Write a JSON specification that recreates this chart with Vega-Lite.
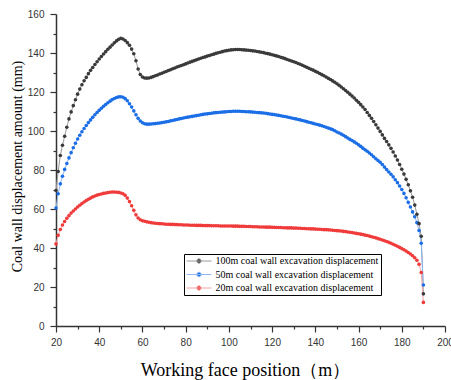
{
  "$schema": "https://vega.github.io/schema/vega-lite/v6.json",
  "width": 389,
  "height": 312,
  "autosize": {"type": "none"},
  "padding": {"left": 56, "top": 14, "right": 6, "bottom": 54},
  "background": "white",
  "config": {
    "view": {"stroke": null},
    "legend": {"strokeWidth": 1}
  },
  "data": {"values": [
    {"x":20,"m100":69.5,"m50":60.5,"m20":42.1},
    {"x":21,"m100":79.2,"m50":67.8,"m20":46.5},
    {"x":22,"m100":87.4,"m50":72.9,"m20":49.5},
    {"x":23,"m100":92.7,"m50":76.8,"m20":51.8},
    {"x":24,"m100":97.3,"m50":80.3,"m20":53.6},
    {"x":25,"m100":101.9,"m50":83.3,"m20":55.2},
    {"x":26,"m100":106.2,"m50":86.2,"m20":56.6},
    {"x":27,"m100":109.8,"m50":88.9,"m20":57.9},
    {"x":28,"m100":113.0,"m50":91.4,"m20":59.0},
    {"x":29,"m100":116.0,"m50":93.7,"m20":60.0},
    {"x":30,"m100":118.9,"m50":95.9,"m20":61.0},
    {"x":31,"m100":121.5,"m50":97.8,"m20":61.9},
    {"x":32,"m100":123.7,"m50":99.6,"m20":62.8},
    {"x":33,"m100":125.8,"m50":101.3,"m20":63.6},
    {"x":34,"m100":127.5,"m50":102.8,"m20":64.3},
    {"x":35,"m100":129.4,"m50":104.3,"m20":65.0},
    {"x":36,"m100":131.1,"m50":105.7,"m20":65.6},
    {"x":37,"m100":132.6,"m50":107.0,"m20":66.2},
    {"x":38,"m100":134.1,"m50":108.3,"m20":66.7},
    {"x":39,"m100":135.5,"m50":109.5,"m20":67.1},
    {"x":40,"m100":136.9,"m50":110.6,"m20":67.4},
    {"x":41,"m100":138.2,"m50":111.7,"m20":67.7},
    {"x":42,"m100":139.5,"m50":112.7,"m20":68.0},
    {"x":43,"m100":140.7,"m50":113.6,"m20":68.2},
    {"x":44,"m100":141.9,"m50":114.5,"m20":68.4},
    {"x":45,"m100":143.0,"m50":115.3,"m20":68.6},
    {"x":46,"m100":144.1,"m50":116.1,"m20":68.7},
    {"x":47,"m100":145.2,"m50":116.7,"m20":68.7},
    {"x":48,"m100":146.2,"m50":117.2,"m20":68.6},
    {"x":49,"m100":147.0,"m50":117.5,"m20":68.5},
    {"x":50,"m100":147.5,"m50":117.6,"m20":68.2},
    {"x":51,"m100":147.2,"m50":117.3,"m20":67.8},
    {"x":52,"m100":146.4,"m50":116.6,"m20":67.0},
    {"x":53,"m100":145.3,"m50":115.5,"m20":65.6},
    {"x":54,"m100":144.0,"m50":114.0,"m20":63.8},
    {"x":55,"m100":142.0,"m50":112.3,"m20":61.7},
    {"x":56,"m100":139.6,"m50":110.3,"m20":59.3},
    {"x":57,"m100":136.0,"m50":108.3,"m20":57.0},
    {"x":58,"m100":131.8,"m50":106.5,"m20":55.4},
    {"x":59,"m100":129.0,"m50":105.1,"m20":54.5},
    {"x":60,"m100":127.7,"m50":104.2,"m20":54.0},
    {"x":61,"m100":127.2,"m50":103.7,"m20":53.7},
    {"x":62,"m100":127.1,"m50":103.5,"m20":53.4},
    {"x":63,"m100":127.2,"m50":103.5,"m20":53.2},
    {"x":64,"m100":127.5,"m50":103.6,"m20":53.0},
    {"x":65,"m100":127.9,"m50":103.7,"m20":52.8},
    {"x":66,"m100":128.3,"m50":103.8,"m20":52.7},
    {"x":67,"m100":128.7,"m50":104.0,"m20":52.6},
    {"x":68,"m100":129.2,"m50":104.1,"m20":52.5},
    {"x":69,"m100":129.6,"m50":104.3,"m20":52.4},
    {"x":70,"m100":130.1,"m50":104.5,"m20":52.3},
    {"x":71,"m100":130.5,"m50":104.7,"m20":52.2},
    {"x":72,"m100":131.0,"m50":104.9,"m20":52.2},
    {"x":73,"m100":131.4,"m50":105.2,"m20":52.1},
    {"x":74,"m100":131.9,"m50":105.4,"m20":52.1},
    {"x":75,"m100":132.3,"m50":105.7,"m20":52.0},
    {"x":76,"m100":132.8,"m50":105.9,"m20":52.0},
    {"x":77,"m100":133.2,"m50":106.2,"m20":51.9},
    {"x":78,"m100":133.6,"m50":106.4,"m20":51.9},
    {"x":79,"m100":134.0,"m50":106.7,"m20":51.8},
    {"x":80,"m100":134.4,"m50":106.9,"m20":51.8},
    {"x":81,"m100":134.9,"m50":107.1,"m20":51.8},
    {"x":82,"m100":135.3,"m50":107.3,"m20":51.7},
    {"x":83,"m100":135.7,"m50":107.5,"m20":51.7},
    {"x":84,"m100":136.1,"m50":107.7,"m20":51.7},
    {"x":85,"m100":136.5,"m50":107.9,"m20":51.6},
    {"x":86,"m100":136.9,"m50":108.1,"m20":51.6},
    {"x":87,"m100":137.3,"m50":108.3,"m20":51.6},
    {"x":88,"m100":137.7,"m50":108.5,"m20":51.5},
    {"x":89,"m100":138.0,"m50":108.7,"m20":51.5},
    {"x":90,"m100":138.4,"m50":108.8,"m20":51.5},
    {"x":91,"m100":138.7,"m50":109.0,"m20":51.5},
    {"x":92,"m100":139.1,"m50":109.1,"m20":51.4},
    {"x":93,"m100":139.4,"m50":109.3,"m20":51.4},
    {"x":94,"m100":139.8,"m50":109.4,"m20":51.4},
    {"x":95,"m100":140.1,"m50":109.5,"m20":51.4},
    {"x":96,"m100":140.4,"m50":109.6,"m20":51.3},
    {"x":97,"m100":140.7,"m50":109.7,"m20":51.3},
    {"x":98,"m100":141.0,"m50":109.8,"m20":51.3},
    {"x":99,"m100":141.2,"m50":109.9,"m20":51.3},
    {"x":100,"m100":141.4,"m50":110.0,"m20":51.3},
    {"x":101,"m100":141.6,"m50":110.0,"m20":51.3},
    {"x":102,"m100":141.7,"m50":110.1,"m20":51.2},
    {"x":103,"m100":141.8,"m50":110.1,"m20":51.2},
    {"x":104,"m100":141.8,"m50":110.1,"m20":51.2},
    {"x":105,"m100":141.8,"m50":110.1,"m20":51.1},
    {"x":106,"m100":141.7,"m50":110.0,"m20":51.1},
    {"x":107,"m100":141.6,"m50":110.0,"m20":51.1},
    {"x":108,"m100":141.5,"m50":109.9,"m20":51.0},
    {"x":109,"m100":141.4,"m50":109.9,"m20":51.0},
    {"x":110,"m100":141.3,"m50":109.8,"m20":51.0},
    {"x":111,"m100":141.1,"m50":109.7,"m20":50.9},
    {"x":112,"m100":141.0,"m50":109.6,"m20":50.9},
    {"x":113,"m100":140.8,"m50":109.5,"m20":50.9},
    {"x":114,"m100":140.6,"m50":109.4,"m20":50.8},
    {"x":115,"m100":140.4,"m50":109.3,"m20":50.8},
    {"x":116,"m100":140.2,"m50":109.2,"m20":50.8},
    {"x":117,"m100":139.9,"m50":109.1,"m20":50.7},
    {"x":118,"m100":139.7,"m50":108.9,"m20":50.7},
    {"x":119,"m100":139.4,"m50":108.7,"m20":50.7},
    {"x":120,"m100":139.1,"m50":108.5,"m20":50.6},
    {"x":121,"m100":138.8,"m50":108.4,"m20":50.6},
    {"x":122,"m100":138.5,"m50":108.2,"m20":50.5},
    {"x":123,"m100":138.2,"m50":108.0,"m20":50.5},
    {"x":124,"m100":137.8,"m50":107.8,"m20":50.5},
    {"x":125,"m100":137.5,"m50":107.6,"m20":50.4},
    {"x":126,"m100":137.1,"m50":107.4,"m20":50.4},
    {"x":127,"m100":136.7,"m50":107.2,"m20":50.3},
    {"x":128,"m100":136.3,"m50":106.9,"m20":50.3},
    {"x":129,"m100":135.9,"m50":106.7,"m20":50.3},
    {"x":130,"m100":135.5,"m50":106.4,"m20":50.2},
    {"x":131,"m100":135.1,"m50":106.2,"m20":50.2},
    {"x":132,"m100":134.6,"m50":105.9,"m20":50.1},
    {"x":133,"m100":134.2,"m50":105.7,"m20":50.1},
    {"x":134,"m100":133.7,"m50":105.4,"m20":50.0},
    {"x":135,"m100":133.2,"m50":105.1,"m20":50.0},
    {"x":136,"m100":132.7,"m50":104.8,"m20":49.9},
    {"x":137,"m100":132.2,"m50":104.5,"m20":49.9},
    {"x":138,"m100":131.7,"m50":104.2,"m20":49.8},
    {"x":139,"m100":131.2,"m50":103.9,"m20":49.8},
    {"x":140,"m100":130.6,"m50":103.6,"m20":49.7},
    {"x":141,"m100":130.1,"m50":103.3,"m20":49.6},
    {"x":142,"m100":129.5,"m50":103.0,"m20":49.6},
    {"x":143,"m100":128.9,"m50":102.7,"m20":49.5},
    {"x":144,"m100":128.3,"m50":102.3,"m20":49.4},
    {"x":145,"m100":127.7,"m50":101.9,"m20":49.4},
    {"x":146,"m100":127.0,"m50":101.5,"m20":49.3},
    {"x":147,"m100":126.4,"m50":101.1,"m20":49.2},
    {"x":148,"m100":125.7,"m50":100.7,"m20":49.1},
    {"x":149,"m100":125.0,"m50":100.1,"m20":49.0},
    {"x":150,"m100":124.2,"m50":99.5,"m20":48.9},
    {"x":151,"m100":123.4,"m50":99.0,"m20":48.8},
    {"x":152,"m100":122.6,"m50":98.4,"m20":48.7},
    {"x":153,"m100":121.7,"m50":97.8,"m20":48.5},
    {"x":154,"m100":120.8,"m50":97.1,"m20":48.4},
    {"x":155,"m100":119.9,"m50":96.4,"m20":48.2},
    {"x":156,"m100":118.9,"m50":95.7,"m20":48.1},
    {"x":157,"m100":117.9,"m50":95.1,"m20":47.9},
    {"x":158,"m100":116.9,"m50":94.4,"m20":47.7},
    {"x":159,"m100":115.8,"m50":93.7,"m20":47.5},
    {"x":160,"m100":114.7,"m50":92.9,"m20":47.3},
    {"x":161,"m100":113.5,"m50":92.1,"m20":47.1},
    {"x":162,"m100":112.3,"m50":91.2,"m20":46.9},
    {"x":163,"m100":111.0,"m50":90.4,"m20":46.6},
    {"x":164,"m100":109.5,"m50":89.6,"m20":46.4},
    {"x":165,"m100":108.0,"m50":88.7,"m20":46.1},
    {"x":166,"m100":106.5,"m50":87.8,"m20":45.8},
    {"x":167,"m100":104.9,"m50":86.8,"m20":45.5},
    {"x":168,"m100":103.2,"m50":85.8,"m20":45.2},
    {"x":169,"m100":101.5,"m50":84.9,"m20":44.8},
    {"x":170,"m100":99.8,"m50":84.0,"m20":44.5},
    {"x":171,"m100":98.0,"m50":82.8,"m20":44.1},
    {"x":172,"m100":96.2,"m50":81.5,"m20":43.7},
    {"x":173,"m100":94.6,"m50":80.2,"m20":43.3},
    {"x":174,"m100":92.9,"m50":79.0,"m20":42.9},
    {"x":175,"m100":91.1,"m50":77.8,"m20":42.4},
    {"x":176,"m100":89.2,"m50":76.5,"m20":41.9},
    {"x":177,"m100":87.2,"m50":75.0,"m20":41.4},
    {"x":178,"m100":85.1,"m50":73.5,"m20":40.9},
    {"x":179,"m100":82.8,"m50":71.8,"m20":40.3},
    {"x":180,"m100":80.4,"m50":70.0,"m20":39.7},
    {"x":181,"m100":77.9,"m50":68.0,"m20":39.1},
    {"x":182,"m100":75.2,"m50":65.8,"m20":38.4},
    {"x":183,"m100":72.4,"m50":63.4,"m20":37.7},
    {"x":184,"m100":69.3,"m50":61.0,"m20":36.9},
    {"x":185,"m100":66.0,"m50":58.5,"m20":36.0},
    {"x":186,"m100":62.0,"m50":56.0,"m20":35.0},
    {"x":187,"m100":57.3,"m50":53.0,"m20":33.7},
    {"x":188,"m100":52.5,"m50":49.0,"m20":31.7},
    {"x":189,"m100":46.0,"m50":42.4,"m20":27.4},
    {"x":190,"m100":16.5,"m50":21.0,"m20":12.1}
  ]},
  "transform": [{"fold": ["m100", "m50", "m20"], "as": ["series", "value"]}],
  "encoding": {
    "x": {
      "field": "x", "type": "quantitative",
      "scale": {"domain": [20, 200], "nice": false, "zero": false},
      "axis": {
        "title": "Working face position（m）",
        "values": [20,30,40,50,60,70,80,90,100,110,120,130,140,150,160,170,180,190,200],
        "labelExpr": "datum.value % 20 == 0 ? datum.label : ''",
        "tickSize": {"condition": {"test": "datum.value % 20 == 0", "value": 6}, "value": 3},
        "grid": false,
        "domainColor": "#333", "domainWidth": 1.5,
        "tickColor": "#333", "tickWidth": 1.2,
        "labelFont": "Liberation Sans", "labelFontSize": 10, "labelColor": "#333",
        "labelPadding": 5, "labelFlush": false, "labelOverlap": false,
        "titleFont": "Liberation Serif", "titleFontSize": 18, "titleFontWeight": "normal", "titleColor": "#000",
        "titleX": 189, "titleY": 49, "titleBaseline": "alphabetic", "titleAlign": "center"
      }
    },
    "y": {
      "field": "value", "type": "quantitative",
      "scale": {"domain": [0, 160], "nice": false},
      "axis": {
        "title": "Coal wall displacement amount (mm)",
        "values": [0,10,20,30,40,50,60,70,80,90,100,110,120,130,140,150,160],
        "labelExpr": "datum.value % 20 == 0 ? datum.label : ''",
        "tickSize": {"condition": {"test": "datum.value % 20 == 0", "value": 6}, "value": 3},
        "grid": false,
        "domainColor": "#333", "domainWidth": 1.5,
        "tickColor": "#333", "tickWidth": 1.2,
        "labelFont": "Liberation Sans", "labelFontSize": 10, "labelColor": "#333",
        "labelPadding": 6, "labelFlush": false, "labelOverlap": false,
        "titleFont": "Liberation Serif", "titleFontSize": 14, "titleFontWeight": "normal", "titleColor": "#000",
        "titleX": -39, "titleY": 152, "titleAngle": -90, "titleBaseline": "middle", "titleAlign": "center"
      }
    }
  },
  "layer": [
    {
      "mark": {"type": "line", "strokeWidth": 1},
      "encoding": {
        "stroke": {
          "field": "series", "type": "nominal",
          "scale": {"domain": ["m100", "m50", "m20"], "range": ["#9a9a9a", "#8db5f2", "#f5a3a3"]},
          "legend": {
            "title": null, "orient": "none", "legendX": 128, "legendY": 240, "direction": "vertical",
            "symbolType": "M-3.1,0H3.1M-0.55,0A0.55,0.55,0,1,0,0.55,0A0.55,0.55,0,1,0,-0.55,0Z",
            "symbolSize": 64, "symbolStrokeWidth": 1, "symbolOffset": 8,
            "labelFont": "Liberation Serif", "labelFontSize": 10, "labelColor": "#000", "labelOffset": 11.5, "labelLimit": 300,
            "padding": 2, "rowPadding": 3.5, "strokeColor": "#000", "fillColor": "#fff",
            "labelExpr": "datum.value == 'm100' ? '100m coal wall excavation displacement' : datum.value == 'm50' ? '50m coal wall excavation displacement' : '20m coal wall excavation displacement'",
            "encode": {"symbols": {"update": {"fill": {"scale": "fill", "field": "value"}, "stroke": {"scale": "stroke", "field": "value"}, "strokeWidth": {"value": 1}, "opacity": {"value": 1}}}}
          }
        }
      }
    },
    {
      "mark": {"type": "circle", "size": 13, "opacity": 1, "strokeWidth": 0},
      "encoding": {
        "fill": {
          "field": "series", "type": "nominal",
          "scale": {"domain": ["m100", "m50", "m20"], "range": ["#3a3a3a", "#1b6ee6", "#f03b3b"]},
          "legend": {
            "title": null, "orient": "none", "legendX": 128, "legendY": 240, "direction": "vertical",
            "symbolType": "M-3.1,0H3.1M-0.55,0A0.55,0.55,0,1,0,0.55,0A0.55,0.55,0,1,0,-0.55,0Z",
            "symbolSize": 64, "symbolStrokeWidth": 1, "symbolOffset": 8,
            "labelFont": "Liberation Serif", "labelFontSize": 10, "labelColor": "#000", "labelOffset": 11.5, "labelLimit": 300,
            "padding": 2, "rowPadding": 3.5, "strokeColor": "#000", "fillColor": "#fff",
            "labelExpr": "datum.value == 'm100' ? '100m coal wall excavation displacement' : datum.value == 'm50' ? '50m coal wall excavation displacement' : '20m coal wall excavation displacement'",
            "encode": {"symbols": {"update": {"fill": {"scale": "fill", "field": "value"}, "stroke": {"scale": "stroke", "field": "value"}, "strokeWidth": {"value": 1}, "opacity": {"value": 1}}}}
          }
        }
      }
    }
  ]
}
